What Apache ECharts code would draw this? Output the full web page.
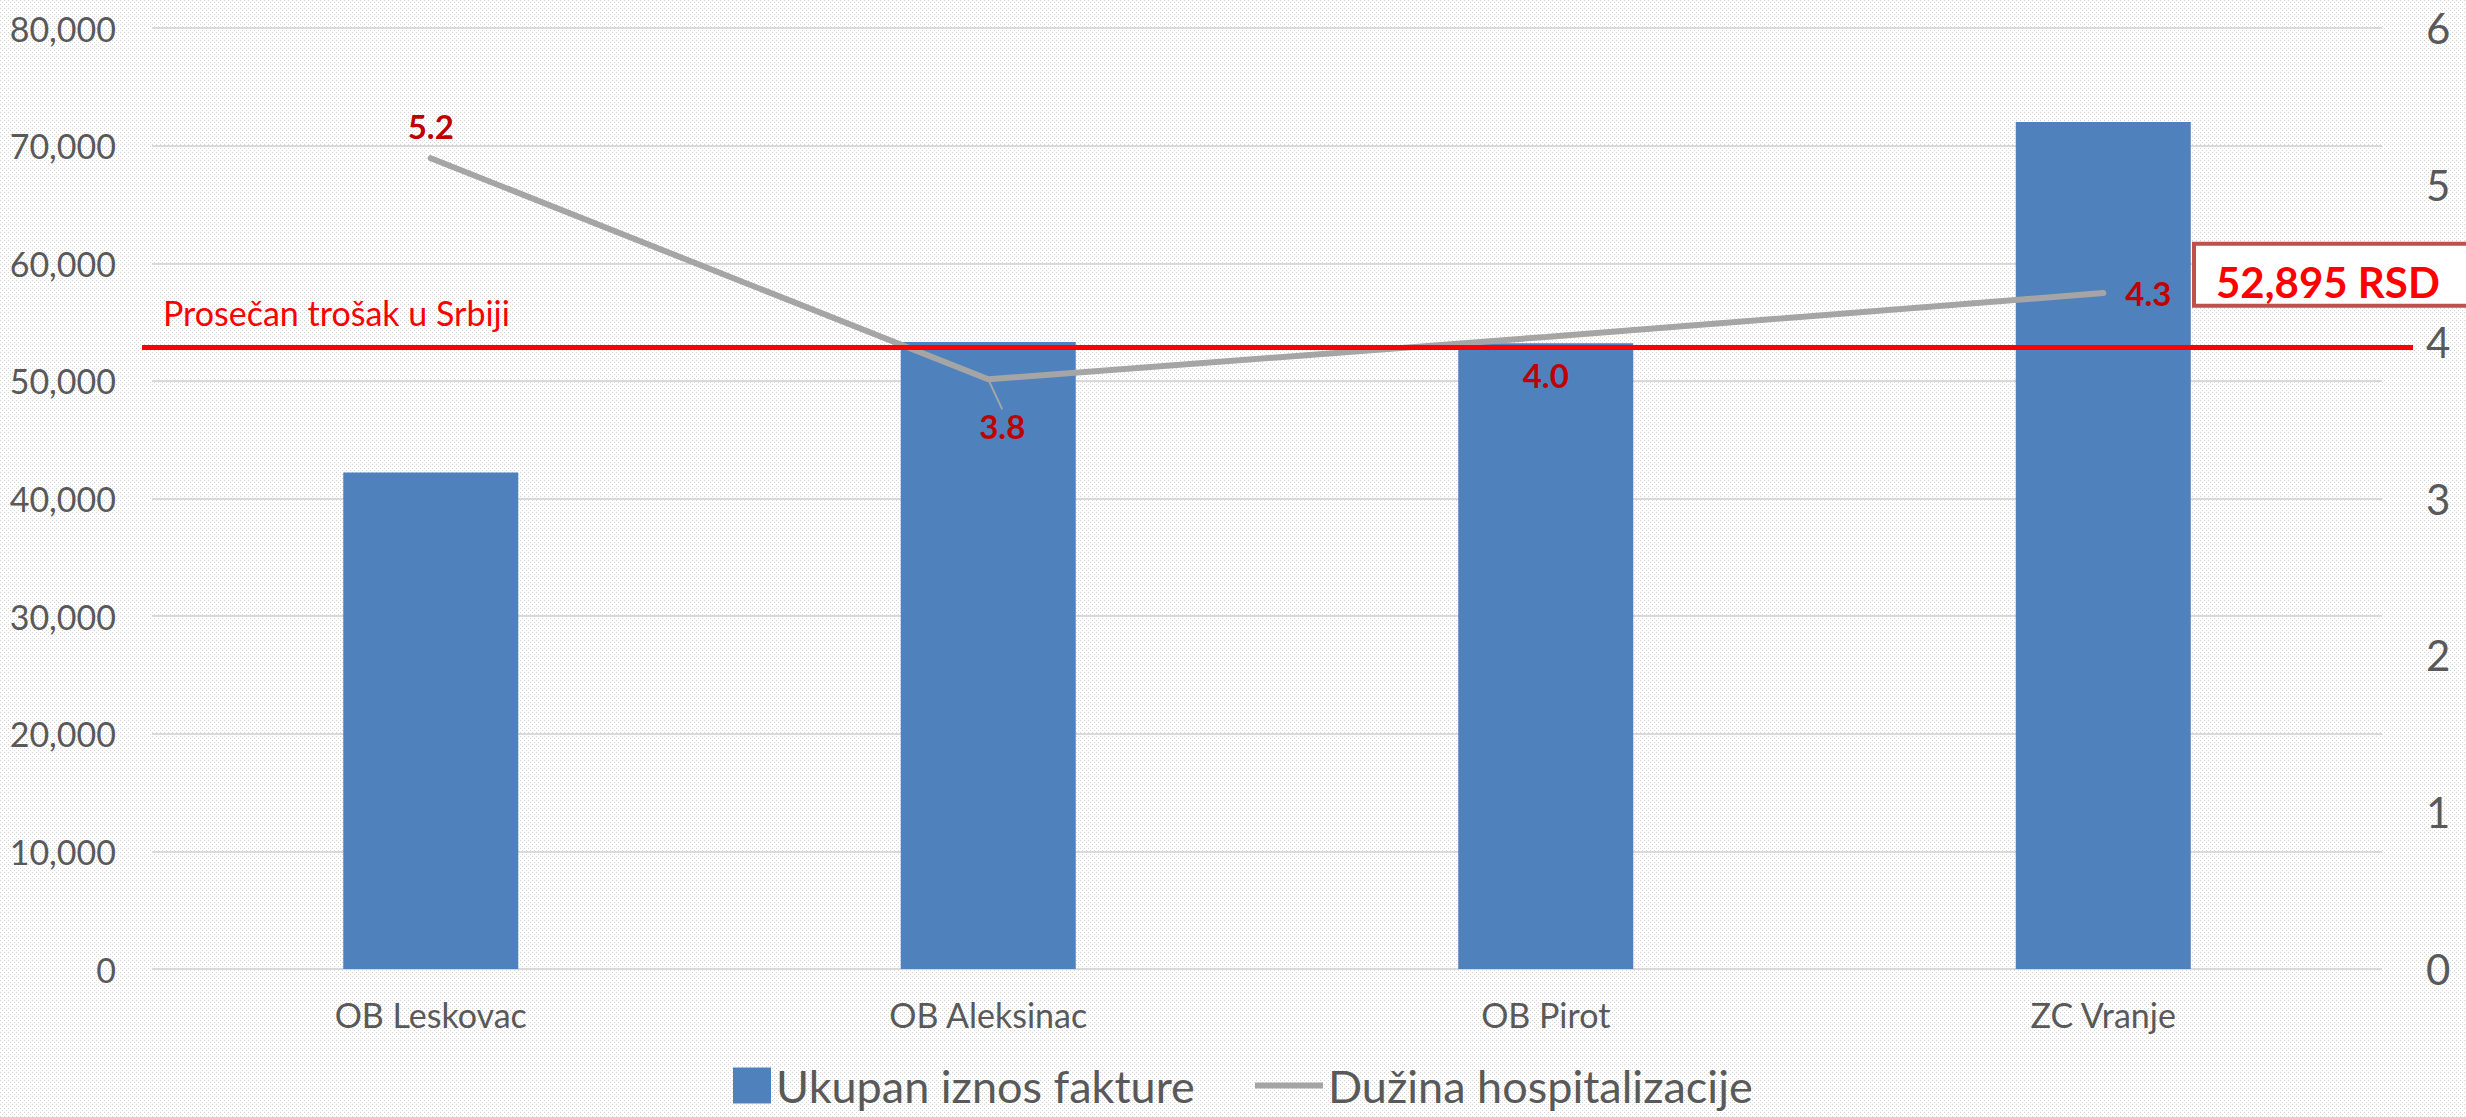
<!DOCTYPE html>
<html>
<head>
<meta charset="utf-8">
<title>Ukupan iznos fakture i dužina hospitalizacije</title>
<script src="https://cdn.jsdelivr.net/npm/echarts@6/dist/echarts.min.js"></script>
<style>
  html, body { margin: 0; padding: 0; background: #fff; }
  #chart { width: 2466px; height: 1117px; }
</style>
</head>
<body>
<div id="chart"></div>
<script>
// podaci
const categories = ['OB Leskovac', 'OB Aleksinac', 'OB Pirot', 'ZC Vranje'];
const invoiceTotals = [42200, 53300, 53200, 72000]; // Ukupan iznos fakture
const stayLengths = [5.17, 3.76, 4.03, 4.31]; // Dužina hospitalizacije
const avgCost = 52895; // Prosečan trošak u Srbiji
const leftTicks = [0, 80000, 10000]; // min, max, interval
const rightTicks = [0, 6, 1];

const FONT = 'Lato, "Liberation Sans", sans-serif';
const GRAY = '#595959';

// tackasta pozadina kao u Excelu
const makeDots = () => {
  const c = document.createElement('canvas');
  c.width = 4; c.height = 4;
  const ctx = c.getContext('2d');
  ctx.fillStyle = '#ffffff';
  ctx.fillRect(0, 0, 4, 4);
  ctx.fillStyle = '#d4d4d4';
  ctx.fillRect(0, 0, 1, 1);
  ctx.fillRect(2, 2, 1, 1);
  return c.toDataURL();
};
document.getElementById('chart').style.backgroundImage = 'url(' + makeDots() + ')';

const chart = echarts.init(document.getElementById('chart'), null, {renderer: 'svg'});

// pozicije labela za liniju
const labelPlacement = [
  {position: 'top', distance: 16, offset: [-16, 0]},
  {position: 'bottom', distance: 4},
  {position: 'bottom', distance: 22, offset: [20, 0]},
  {position: 'right', distance: 22}
];

const option = {
  backgroundColor: 'transparent',
  animation: false,
  textStyle: {fontFamily: FONT},
  grid: {left: 152, right: 84, top: 28, bottom: 148},
  legend: [
    {
      data: [{name: 'Ukupan iznos fakture', icon: 'rect'}],
      selectedMode: false,
      left: 728, top: 1058,
      itemWidth: 38, itemHeight: 36,
      textStyle: {fontSize: 45, color: GRAY, fontFamily: FONT}
    },
    {
      data: [{name: 'Dužina hospitalizacije', icon: 'rect'}],
      selectedMode: false,
      left: 1250, top: 1058,
      itemWidth: 68, itemHeight: 6,
      textStyle: {fontSize: 45, color: GRAY, fontFamily: FONT}
    }
  ],
  xAxis: {
    type: 'category',
    data: categories,
    axisLine: {show: false},
    axisTick: {show: false},
    axisLabel: {fontSize: 34, color: GRAY, margin: 28, fontFamily: FONT}
  },
  yAxis: [
    {
      type: 'value',
      min: leftTicks[0], max: leftTicks[1], interval: leftTicks[2],
      axisLine: {show: false},
      axisTick: {show: false},
      splitLine: {lineStyle: {color: '#D9D9D9', width: 2}},
      axisLabel: {
        fontSize: 34, color: GRAY, margin: 36, fontFamily: FONT,
        formatter: (v) => v.toLocaleString('en-US')
      }
    },
    {
      type: 'value',
      min: rightTicks[0], max: rightTicks[1], interval: rightTicks[2],
      axisLine: {show: false},
      axisTick: {show: false},
      splitLine: {show: false},
      axisLabel: {fontSize: 42, color: GRAY, margin: 44, fontFamily: FONT}
    }
  ],
  series: [
    {
      name: 'Ukupan iznos fakture',
      type: 'bar',
      data: invoiceTotals,
      barWidth: 175,
      itemStyle: {color: '#4F81BD'},
      z: 2,
      markLine: {
        silent: true,
        symbol: 'none',
        z: 5,
        lineStyle: {color: '#FF0000', width: 5, type: 'solid'},
        label: {
          show: true,
          position: 'insideStartTop',
          distance: [21, 17],
          formatter: 'Prosečan trošak u Srbiji',
          color: '#FF0000',
          fontSize: 34,
          fontFamily: FONT
        },
        data: [[{yAxis: avgCost, x: 142}, {yAxis: avgCost, x: 2413}]]
      }
    },
    {
      name: 'Dužina hospitalizacije',
      type: 'line',
      yAxisIndex: 1,
      z: 4,
      data: stayLengths.map((v, i) => ({
        value: v,
        label: labelPlacement[i],
        labelLine: {show: i === 1, lineStyle: {color: '#A5A5A5', width: 2}}
      })),
      symbol: 'circle',
      symbolSize: 0.01,
      showSymbol: true,
      lineStyle: {color: '#A5A5A5', width: 6, cap: 'round'},
      itemStyle: {color: '#A5A5A5'},
      labelLayout: (p) => (p.dataIndex === 1 ? {dx: 14, dy: 26} : {}),
      label: {
        show: true,
        color: '#C00000',
        fontWeight: 'bold',
        fontSize: 33,
        fontFamily: FONT,
        formatter: (p) => p.value.toFixed(1)
      }
    }
  ]
};

chart.setOption(option);

// okvir sa prosečnim troškom, iznad crvene linije
const yLine = chart.convertToPixel({yAxisIndex: 0}, avgCost);
chart.setOption({
  graphic: [
    {
      type: 'rect',
      z: 10,
      shape: {x: 2194, y: yLine - 103, width: 290, height: 62},
      style: {fill: '#ffffff', stroke: '#C0504D', lineWidth: 4}
    },
    {
      type: 'text',
      z: 11,
      x: 2216,
      y: yLine - 65,
      style: {
        text: avgCost.toLocaleString('en-US') + ' RSD',
        font: 'bold 42px ' + FONT,
        fill: '#FF0000',
        verticalAlign: 'middle'
      }
    }
  ]
});
</script>
</body>
</html>
